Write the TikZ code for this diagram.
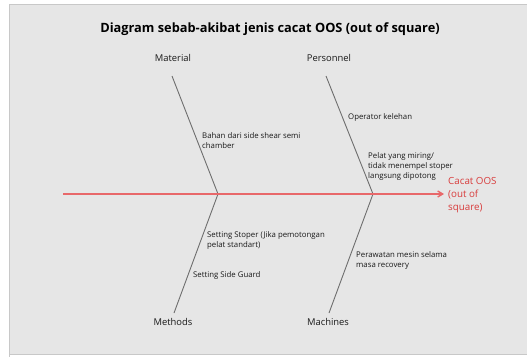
\documentclass[tikz,border=0pt]{standalone}
\usepackage{fontspec}
\setmainfont{Open Sans}
\usetikzlibrary{arrows.meta}
\definecolor{bg}{HTML}{E6E6E6}
\definecolor{bgline}{HTML}{C8C8C8}
\definecolor{bone}{HTML}{6E6E6E}
\definecolor{spine}{HTML}{E8686A}
\definecolor{effect}{HTML}{D83C3C}
\tikzset{
  catlab/.style={font=\fontsize{9.4}{11}\selectfont, text=black!90, inner sep=0pt},
  causelab/.style={font=\fontsize{7.8}{10}\selectfont, text=black!90, inner sep=0pt, anchor=north west, align=left},
  bonel/.style={draw=bone, line width=0.9pt},
}
\begin{document}
\begin{tikzpicture}[x=1pt,y=-1pt]
\useasboundingbox (0,0) rectangle (527,356);
\fill[bg] (9,4) rectangle (530,354);
\draw[bgline, line width=0.8pt] (9,360) -- (9,4) -- (530,4);
\draw[bgline, line width=0.8pt] (9,354) -- (530,354);
\node[font=\bfseries\fontsize{12.8}{14}\selectfont, inner sep=0pt] (title) at (270,29) {Diagram sebab-akibat jenis cacat OOS (out of square)};

\node[catlab] (mat) at (173,58) {Material};
\node[catlab] (per) at (329,58) {Personnel};
\node[catlab] (met) at (173,322) {Methods};
\node[catlab] (mac) at (328,322) {Machines};

\coordinate (s0) at (63,194);
\coordinate (j1) at (218,194);
\coordinate (j2) at (373,194);
\coordinate (sE) at (444,194);
\coordinate (m1) at (172,76);
\coordinate (p1) at (326,76);
\coordinate (t1) at (174,313);
\coordinate (c1) at (329,313);

\draw[bonel] (m1) -- (j1) -- (t1);
\draw[bonel] (p1) -- (j2) -- (c1);
\draw[spine, line width=1.4pt, -{Straight Barb[length=5pt,width=6pt]}] (s0) -- (sE);

\node[font=\fontsize{9.8}{13}\selectfont, text=effect, inner sep=0pt, anchor=north west, align=left] (eff) at (448,177.5) {Cacat OOS\\(out of\\square)};

\node[causelab] (c1a) at (202,132) {Bahan dari side shear semi\\chamber};
\node[causelab] (c2a) at (348,113) {Operator kelehan};
\node[causelab] (c2b) at (368,152) {Pelat yang miring/\\tidak menempel stoper\\langsung dipotong};
\node[causelab] (c3a) at (207,231) {Setting Stoper (Jika pemotongan\\pelat standart)};
\node[causelab] (c3b) at (193,271) {Setting Side Guard};
\node[causelab] (c4a) at (356,251) {Perawatan mesin selama\\masa recovery};
\end{tikzpicture}
\end{document}
